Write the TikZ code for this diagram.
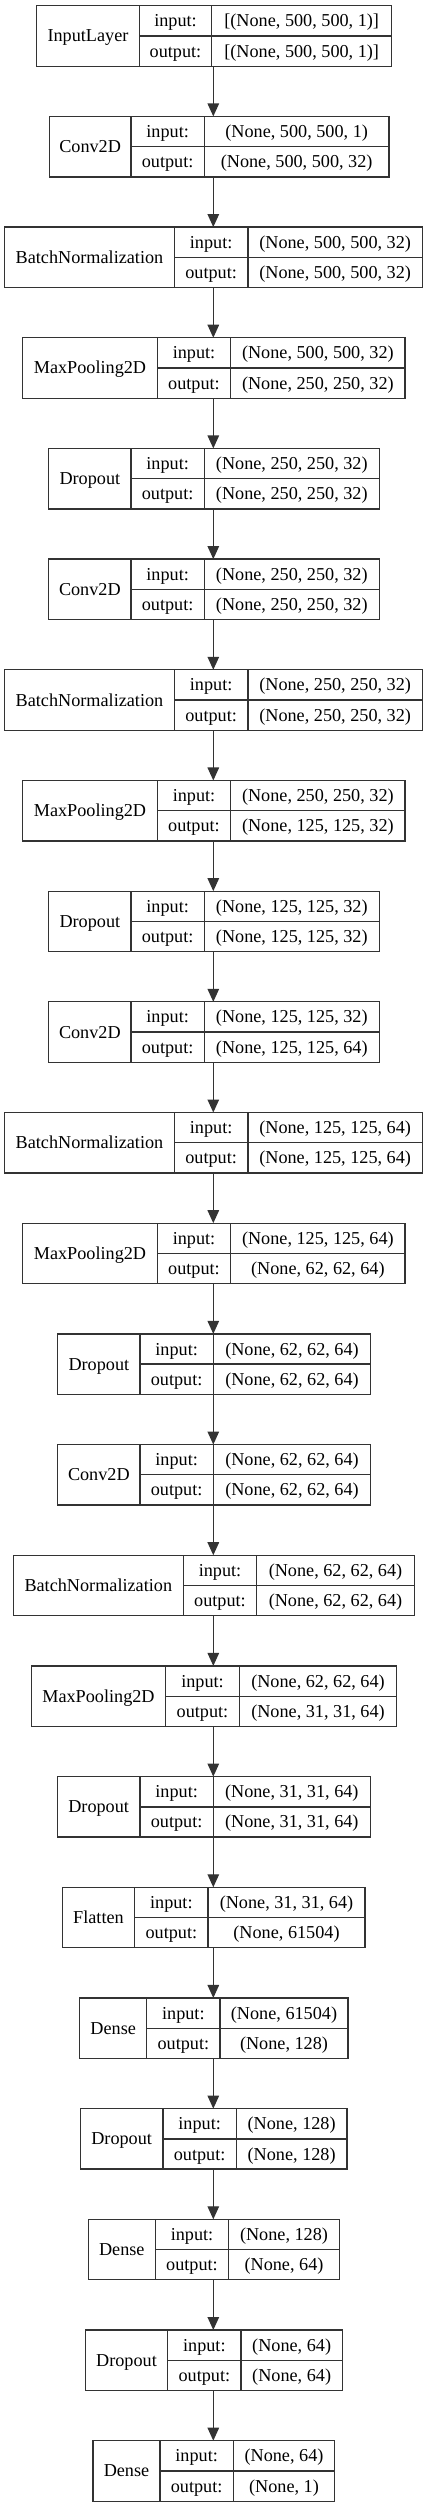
\documentclass[tikz,border=0pt]{standalone}
\usepackage{fontspec}
\setmainfont{Liberation Serif}
\usepackage{tikz}
\usetikzlibrary{arrows.meta}
\tikzstyle{cell}=[draw=black!80, line width=1.3pt, inner sep=0pt, outer sep=0pt, anchor=north west,
  text height=12pt, text depth=0pt, font=\fontsize{18.2}{20}\selectfont]
\tikzstyle{flow}=[line width=1.3pt, draw=black!80, -{Triangle[length=13pt,width=11.5pt]}]
% one layer box: index, four x borders, name, input shape, output shape
\newcommand\netlayer[8]{%
  \pgfmathsetmacro\ltop{5.7+110.68*#1}%
  \pgfmathsetmacro\lmid{\ltop+30.25}%
  \pgfmathsetmacro\wa{#3-#2}%
  \pgfmathsetmacro\wb{#4-#3}%
  \pgfmathsetmacro\wc{#5-#4}%
  \node[cell, minimum width=\wa pt, minimum height=60.5pt] (l#1) at (#2,\ltop) {#6};
  \node[cell, minimum width=\wb pt, minimum height=30.25pt] (l#1-i) at (#3,\ltop) {input:};
  \node[cell, minimum width=\wb pt, minimum height=30.25pt] (l#1-o) at (#3,\lmid) {output:};
  \node[cell, minimum width=\wc pt, minimum height=30.25pt] (l#1-vi) at (#4,\ltop) {#7};
  \node[cell, minimum width=\wc pt, minimum height=30.25pt] (l#1-vo) at (#4,\lmid) {#8};
}
\begin{document}
\begin{tikzpicture}[x=1pt, y=-1pt]
  \useasboundingbox (0,0) rectangle (428,2508);
  \coordinate (spine) at (213.3,0);
  \netlayer{0}{36.7}{139.3}{211.7}{391.7}{InputLayer}{[(None, 500, 500, 1)]}{[(None, 500, 500, 1)]}
  \netlayer{1}{49.3}{131}{204.3}{389}{Conv2D}{(None, 500, 500, 1)}{(None, 500, 500, 32)}
  \netlayer{2}{4.7}{174.3}{248}{422.3}{BatchNormalization}{(None, 500, 500, 32)}{(None, 500, 500, 32)}
  \netlayer{3}{22.7}{157.3}{230.7}{405}{MaxPooling2D}{(None, 500, 500, 32)}{(None, 250, 250, 32)}
  \netlayer{4}{48.7}{131}{204.3}{379.3}{Dropout}{(None, 250, 250, 32)}{(None, 250, 250, 32)}
  \netlayer{5}{48.7}{131}{204.3}{379.3}{Conv2D}{(None, 250, 250, 32)}{(None, 250, 250, 32)}
  \netlayer{6}{4.7}{174.3}{248}{422.3}{BatchNormalization}{(None, 250, 250, 32)}{(None, 250, 250, 32)}
  \netlayer{7}{22.7}{157.3}{230.7}{405}{MaxPooling2D}{(None, 250, 250, 32)}{(None, 125, 125, 32)}
  \netlayer{8}{48.7}{131}{204.3}{379.3}{Dropout}{(None, 125, 125, 32)}{(None, 125, 125, 32)}
  \netlayer{9}{48.7}{131}{204.3}{379.3}{Conv2D}{(None, 125, 125, 32)}{(None, 125, 125, 64)}
  \netlayer{10}{4.7}{174.3}{248}{422.3}{BatchNormalization}{(None, 125, 125, 64)}{(None, 125, 125, 64)}
  \netlayer{11}{22.7}{157.3}{230.7}{405}{MaxPooling2D}{(None, 125, 125, 64)}{(None, 62, 62, 64)}
  \netlayer{12}{57.7}{140}{213.3}{370.7}{Dropout}{(None, 62, 62, 64)}{(None, 62, 62, 64)}
  \netlayer{13}{57.7}{140}{213.3}{370.7}{Conv2D}{(None, 62, 62, 64)}{(None, 62, 62, 64)}
  \netlayer{14}{13.3}{183.3}{256.7}{414.3}{BatchNormalization}{(None, 62, 62, 64)}{(None, 62, 62, 64)}
  \netlayer{15}{31.3}{165.7}{239.3}{396.7}{MaxPooling2D}{(None, 62, 62, 64)}{(None, 31, 31, 64)}
  \netlayer{16}{57.3}{140}{213.3}{370.3}{Dropout}{(None, 31, 31, 64)}{(None, 31, 31, 64)}
  \netlayer{17}{62.3}{134.7}{208}{365}{Flatten}{(None, 31, 31, 64)}{(None, 61504)}
  \netlayer{18}{79.7}{146.7}{220}{348}{Dense}{(None, 61504)}{(None, 128)}
  \netlayer{19}{80.3}{163}{236.3}{347}{Dropout}{(None, 128)}{(None, 128)}
  \netlayer{20}{88.3}{155.3}{228.7}{339.3}{Dense}{(None, 128)}{(None, 64)}
  \netlayer{21}{85.3}{167.7}{241}{342.3}{Dropout}{(None, 64)}{(None, 64)}
  \netlayer{22}{93}{160}{233.3}{334.7}{Dense}{(None, 64)}{(None, 1)}
  \foreach \k [evaluate=\k as \n using int(\k+1)] in {0,...,21}
    \draw[flow] (l\k.south -| spine) -- (l\n.north -| spine);
\end{tikzpicture}
\end{document}
